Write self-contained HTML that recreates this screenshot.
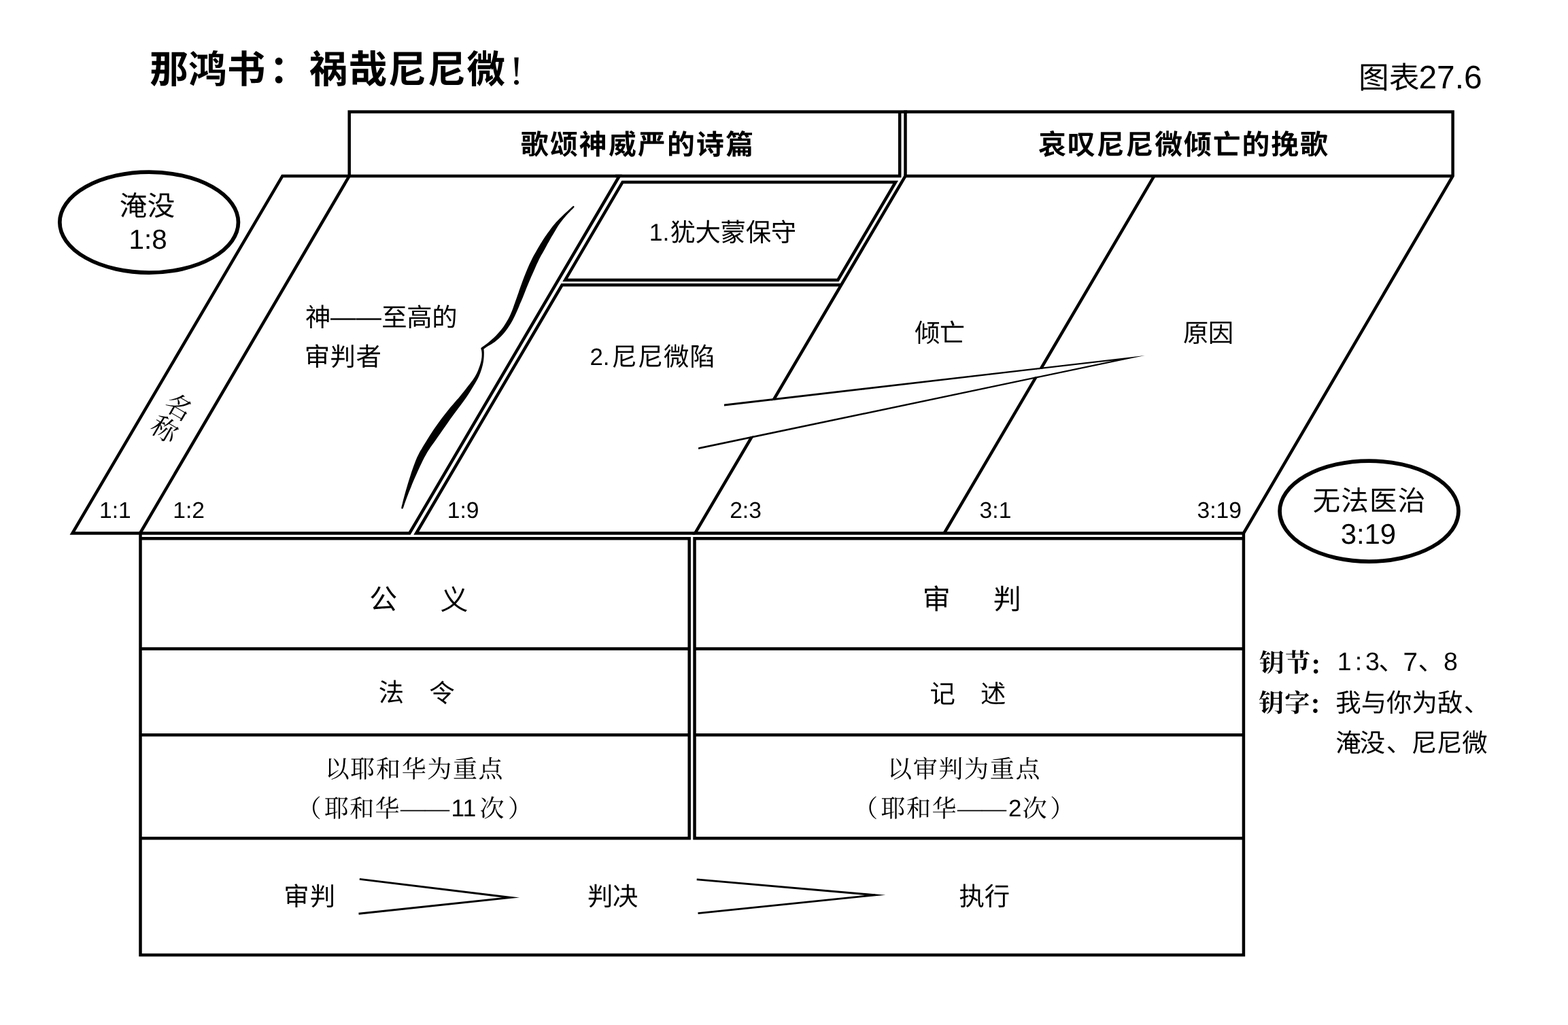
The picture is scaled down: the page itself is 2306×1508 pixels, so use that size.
<!DOCTYPE html>
<html lang="zh-CN">
<head>
<meta charset="utf-8">
<title>那鸿书：祸哉尼尼微！ 图表27.6</title>
<style>
html,body{margin:0;padding:0;background:#fff}
body{width:2306px;height:1508px;overflow:hidden}
svg{display:block;font-family:"Liberation Sans",sans-serif;fill:#000}
.l{fill:none;stroke:#000;stroke-linejoin:miter;stroke-miterlimit:10}
.hb{font-family:"Liberation Sans","Noto Sans CJK SC",sans-serif;font-weight:bold;fill:#000}
.h{font-family:"Liberation Sans","Noto Sans CJK SC",sans-serif;fill:#000}
.s{font-family:"Liberation Serif","Noto Serif CJK SC",serif;fill:#000}
.sb{font-family:"Liberation Serif","Noto Serif CJK SC",serif;font-weight:bold;fill:#000}
svg text{text-rendering:geometricPrecision}
svg{filter:grayscale(1)}
</style>
</head>
<body>
<svg width="2306" height="1508" viewBox="0 0 2306 1508">
<path class="l" d="M415.4 258.9H910.9L602.3 784.5H106.5Z" stroke-width="4.5"/>
<path class="l" d="M513.7 258.9L206 784.5" stroke-width="4.5"/>
<path class="l" d="M513.7 260.9V164.6H1323.2V258.9H905M1320 164.6H1334" stroke-width="4.5"/>
<path class="l" d="M915.6 267.9H1317.1L1232.3 411.9H831.2Z" stroke-width="4.5"/>
<path class="l" d="M1237.6 419.3H826.6L612.2 784.5H1022.2" stroke-width="4.5"/>
<path class="l" d="M1331.5 258.9V164.6H2136.6V258.9L1828.9 784.5H1022.2Z" stroke-width="4.5"/>
<path class="l" d="M1329.4 258.9H2136.6" stroke-width="4.5"/>
<path class="l" d="M1697.4 258.9L1388.6 784.5" stroke-width="4.5"/>
<path d="M1065 597.4L1637.4 530.5L1027.1 658.2Z" style="fill:#fff"/>
<path d="M1065 594.6L1683.7 522.9L1027.1 661L1027.1 658.2L1637.4 530.5L1065 597.4Z"/>
<path class="l" d="M206.5 784.5V1405.0H1828.9V784.5" stroke-width="4.5"/>
<path class="l" d="M206.5 792.2H1013.7V1233.3H206.5" stroke-width="4.5"/>
<path class="l" d="M1828.9 792.2H1021.5V1233.3H1828.9" stroke-width="4.5"/>
<path class="l" d="M206.5 954.6H1013.7M206.5 1081.2H1013.7M1021.5 954.6H1828.9M1021.5 1081.2H1828.9" stroke-width="4.5"/>
<path class="l" d="M528.8 1293.4L751.3 1320.45L527.5 1344.2" stroke-width="2.9" style="stroke-miterlimit:60"/>
<path class="l" d="M1024.7 1293.9L1287 1316.8L1026.5 1343.6" stroke-width="2.9" style="stroke-miterlimit:60"/>
<ellipse class="l" cx="219.15" cy="327.1" rx="131.3" ry="73.95" stroke-width="5.7"/>
<ellipse class="l" cx="2013.5" cy="752.1" rx="131.45" ry="73.95" stroke-width="5.7"/>
<g aria-label="——"><text x="486" y="479" font-size="37.4" class="h">——</text></g>
<g aria-label="——"><text x="589" y="1201" font-size="36" class="s">——</text></g>
<g aria-label="——"><text x="1408" y="1201" font-size="36" class="s">——</text></g>
<path d="M843.7 302.9C843.9 303.1 844.7 303.7 844.6 304.3C844.5 304.9 843.9 305.5 842.9 306.6C841.9 307.7 840.1 309.3 838.5 310.9C837 312.5 835 314.4 833.4 316.2C831.8 318 830.3 319.7 828.9 321.5C827.4 323.3 826.1 325 824.8 326.8C823.4 328.6 822.2 330.3 821 332.1C819.9 333.9 818.8 335.6 817.7 337.4C816.6 339.2 815.6 340.9 814.6 342.7C813.5 344.5 812.5 346.3 811.4 348.1C810.4 349.9 809.3 351.6 808.3 353.4C807.3 355.2 806.3 356.9 805.3 358.7C804.3 360.5 803.4 362.2 802.5 364C801.5 365.8 800.6 367.6 799.5 369.4C798.5 371.2 797.5 372.9 796.3 375C795.2 377.1 794 379.1 792.6 381.9C791.3 384.6 789.8 387.9 788.3 391.2C786.9 394.5 785.2 398.3 783.7 401.8C782.1 405.3 780.5 408.9 779 412.4C777.5 416 776.1 419.5 774.6 423.1C773.2 426.6 771.7 430.4 770.4 433.7C769.1 436.9 767.9 440 766.8 442.6C765.7 445.1 765 446.8 764 449C763.1 451.3 762.2 453.5 761.1 456C760 458.6 758.7 461.5 757.5 464.1C756.2 466.8 754.9 469.4 753.5 471.9C752 474.5 750.5 477.2 748.8 479.7C747.2 482.2 745.4 484.7 743.7 487C742 489.2 740.2 491.4 738.4 493.3C736.6 495.3 734.9 497 733.1 498.6C731.3 500.2 729.5 501.7 727.7 503C725.9 504.3 724.2 505.5 722.4 506.6C720.6 507.6 718.9 508.3 717.1 509.5C715.3 510.7 712.4 512.8 711.5 513.5C711.5 514.3 711.8 516.6 711.8 518.3C711.8 520 711.8 521.8 711.7 523.6C711.6 525.4 711.5 527.2 711.3 529C711.1 530.9 710.8 532.7 710.4 534.6C710.1 536.4 709.6 538.2 709.1 540C708.6 541.8 708.1 543.5 707.5 545.3C706.9 547.1 706.3 548.8 705.6 550.6C704.9 552.4 704.1 554.1 703.2 555.9C702.3 557.7 701.3 559.4 700.3 561.2C699.3 563 698.3 564.7 697.2 566.5C696.1 568.3 695.1 570 694 571.8C692.9 573.6 691.9 575.3 690.7 577.2C689.4 579.2 688.2 581.1 686.6 583.4C685 585.8 683.1 588.4 680.9 591.4C678.8 594.3 676.1 597.8 673.6 601.2C671 604.6 668.3 608.3 665.8 611.8C663.2 615.3 660.7 618.9 658.2 622.4C655.7 626 653.3 629.5 650.8 633.1C648.3 636.6 645.7 640.4 643.3 643.7C641 647 638.6 650.4 636.8 653.1C634.9 655.7 633.5 657.6 632.1 659.7C630.7 661.8 629.7 663.3 628.3 665.5C627 667.8 625.5 670.4 624.1 673.1C622.7 675.8 621.2 678.8 619.8 681.7C618.4 684.6 617.1 687.4 615.8 690.3C614.5 693.2 613.2 696.1 611.9 699C610.6 701.9 609.3 704.7 608.1 707.6C606.9 710.5 605.7 713.3 604.6 716.2C603.4 719.1 602.3 721.9 601.1 724.8C600 727.7 598.8 730.7 597.8 733.4C596.8 736.2 595.8 738.9 595 741.2C594.2 743.6 593.5 746.2 592.9 747.4C592.3 748.6 591.8 748.4 591.6 748.6C591.4 748.4 590.3 748.7 590.3 747.5C590.3 746.3 591.1 743.6 591.7 741.3C592.2 738.9 592.9 736.2 593.6 733.4C594.3 730.7 595.2 727.7 596 724.8C596.8 721.9 597.6 719.1 598.5 716.2C599.4 713.3 600.2 710.5 601.1 707.6C602 704.7 602.9 701.9 603.8 699C604.7 696.1 605.7 693.2 606.7 690.3C607.7 687.4 608.7 684.6 609.8 681.7C610.9 678.8 612.1 675.8 613.3 673.1C614.5 670.4 615.8 667.8 617 665.5C618.2 663.3 619.2 661.8 620.5 659.7C621.7 657.6 622.9 655.7 624.5 653.1C626.1 650.4 628.1 647 630.2 643.7C632.3 640.4 634.7 636.6 637.1 633.1C639.5 629.5 642 626 644.5 622.4C647.1 618.9 649.8 615.3 652.5 611.8C655.2 608.3 658.1 604.5 660.8 601.2C663.5 597.9 666.3 594.6 668.7 591.9C671.1 589.1 673.2 586.9 675.1 584.7C677 582.5 678.5 580.5 680.1 578.6C681.7 576.6 683 574.7 684.5 572.9C685.9 571.1 687.3 569.4 688.7 567.6C690.1 565.8 691.5 564.1 692.8 562.3C694.2 560.5 695.4 558.8 696.6 557C697.7 555.2 698.8 553.5 699.8 551.7C700.7 549.9 701.6 548.2 702.4 546.4C703.2 544.6 703.9 542.9 704.5 541.1C705.2 539.3 705.8 537.6 706.3 535.8C706.9 534 707.3 532.3 707.7 530.5C708 528.7 708.3 526.9 708.5 525.2C708.6 523.5 708.7 521.8 708.6 520.1C708.6 518.5 708.3 516.8 708.1 515.6C707.9 514.4 707.4 513.4 707.3 513C707.4 512.7 707.2 512.1 707.9 511.4C708.6 510.7 710.3 509.8 711.8 508.7C713.3 507.6 715 506.4 716.9 504.9C718.7 503.4 720.9 501.6 723 499.8C725 498 727.2 496 729.2 493.9C731.2 491.9 733.2 489.8 735 487.6C736.9 485.4 738.7 483.1 740.4 480.7C742.1 478.3 743.6 475.8 745.1 473.3C746.6 470.7 748.1 468.1 749.4 465.4C750.7 462.6 752 459.5 753.1 456.9C754.2 454.2 755.1 451.7 755.9 449.3C756.8 446.9 757.4 445.2 758.3 442.6C759.2 440 760.3 437 761.4 433.7C762.5 430.5 763.8 426.6 765.1 423.1C766.4 419.5 767.6 416 768.9 412.4C770.3 408.9 771.7 405.3 773.1 401.8C774.5 398.3 776 394.5 777.5 391.2C779 387.9 780.5 384.6 781.9 381.9C783.2 379.1 784.4 377 785.5 375C786.7 372.9 787.6 371.2 788.7 369.4C789.7 367.6 790.7 365.8 791.8 364C792.8 362.2 793.8 360.5 794.9 358.7C796 356.9 797.1 355.2 798.2 353.4C799.4 351.6 800.6 349.9 801.8 348.1C803 346.3 804.3 344.5 805.5 342.7C806.8 340.9 808.1 339.2 809.4 337.4C810.7 335.6 812.1 333.9 813.5 332.1C814.9 330.3 816.4 328.6 818 326.8C819.6 325 821.3 323.3 823.1 321.5C824.8 319.7 826.7 318 828.5 316.2C830.4 314.4 832.4 312.5 834.2 310.9C836 309.3 837.8 307.6 839.1 306.4C840.5 305.2 841.6 304.1 842.4 303.5C843.2 302.9 843.5 303 843.7 302.9Z"/>
<g aria-label="那鸿书"><text x="220.3" y="121.7" font-size="56.5" letter-spacing="0.26" class="hb">那鸿书</text></g>
<g aria-label="："><text x="396" y="122" font-size="56.5" class="hb">：</text></g>
<g aria-label="祸哉尼尼微"><text x="454.8" y="121.8" font-size="56.5" letter-spacing="1.45" class="hb">祸哉尼尼微</text></g>
<text x="749.5" y="124.45" font-size="60.24" font-family="Liberation Serif">!</text>
<g aria-label="图表"><text x="1998" y="129.9" font-size="44.7" class="h">图表</text></g>
<text x="2086.45" y="129.6" font-size="47.83">27.6</text>
<g aria-label="歌颂神威严的诗篇"><text x="765.7" y="226.6" font-size="40.8" letter-spacing="2.27" class="hb">歌颂神威严的诗篇</text></g>
<g aria-label="哀叹尼尼微倾亡的挽歌"><text x="1527.3" y="226.7" font-size="40.8" letter-spacing="1.95" class="hb">哀叹尼尼微倾亡的挽歌</text></g>
<g aria-label="淹没"><text x="175.7" y="317.4" font-size="40.6" letter-spacing="0.46" class="h">淹没</text></g>
<text x="189.56" y="366.01" font-size="40.4">1:8</text>
<g aria-label="无法医治"><text x="1930.6" y="751.2" font-size="40.6" letter-spacing="1.11" class="h">无法医治</text></g>
<text x="1971.71" y="800.39" font-size="41.81">3:19</text>
<g aria-label="神"><text x="448.9" y="479.7" font-size="37.4" class="h">神</text></g>
<g aria-label="至高的"><text x="561.3" y="479.8" font-size="37.4" letter-spacing="-0.41" class="h">至高的</text></g>
<g aria-label="审判者"><text x="447.7" y="538.2" font-size="37.4" letter-spacing="0.46" class="h">审判者</text></g>
<text x="954.82" y="353.8" font-size="35.61">1.</text>
<g aria-label="犹大蒙保守"><text x="985.5" y="355.2" font-size="37.4" letter-spacing="-0.34" class="h">犹大蒙保守</text></g>
<text x="867.39" y="537.4" font-size="34.94">2.</text>
<g aria-label="尼尼微陷"><text x="899.5" y="538.3" font-size="37.4" letter-spacing="0.88" class="h">尼尼微陷</text></g>
<g aria-label="倾亡"><text x="1345.3" y="503" font-size="37.4" letter-spacing="-1.04" class="h">倾亡</text></g>
<g aria-label="原因"><text x="1739.9" y="502.6" font-size="37.4" letter-spacing="-0.6" class="h">原因</text></g>
<text x="145.98" y="762.17" font-size="33.62">1:1</text>
<text x="254.2" y="762.17" font-size="33.62">1:2</text>
<text x="657.7" y="762.17" font-size="33.62">1:9</text>
<text x="1073.13" y="762.17" font-size="33.62">2:3</text>
<text x="1440.62" y="762.17" font-size="33.62">3:1</text>
<text x="1760.59" y="762.17" font-size="33.62">3:19</text>
<g aria-label="名" transform="rotate(30.4 252.3 614)"><text x="233.9" y="609.1" font-size="38.5" class="s">名</text></g>
<g aria-label="称" transform="rotate(30.4 252.3 614)"><text x="233.2" y="648.1" font-size="38.5" class="s">称</text></g>
<g aria-label="公"><text x="543.3" y="895.9" font-size="41" class="h">公</text></g>
<g aria-label="义"><text x="647.6" y="896.5" font-size="41" class="h">义</text></g>
<g aria-label="法"><text x="556.8" y="1032.4" font-size="37.4" class="h">法</text></g>
<g aria-label="令"><text x="631.2" y="1032.5" font-size="37.4" class="h">令</text></g>
<g aria-label="审"><text x="1356.8" y="896.4" font-size="41" class="h">审</text></g>
<g aria-label="判"><text x="1460.7" y="896" font-size="41" class="h">判</text></g>
<g aria-label="记"><text x="1367.5" y="1033.9" font-size="37.4" class="h">记</text></g>
<g aria-label="述"><text x="1442.1" y="1033.5" font-size="37.4" class="h">述</text></g>
<g aria-label="以耶和华为重点"><text x="477.7" y="1143.7" font-size="36" letter-spacing="1.65" class="s">以耶和华为重点</text></g>
<g aria-label="（"><text x="436.4" y="1201.9" font-size="36" class="s">（</text></g>
<g aria-label="耶和华"><text x="477" y="1201.9" font-size="36" letter-spacing="1.2" class="s">耶和华</text></g>
<text x="663.44" y="1201.2" font-size="35.47">11</text>
<g aria-label="次"><text x="705.6" y="1202" font-size="36" class="s">次</text></g>
<g aria-label="）"><text x="747" y="1201.9" font-size="36" class="s">）</text></g>
<g aria-label="以审判为重点"><text x="1305" y="1143.8" font-size="36" letter-spacing="1.68" class="s">以审判为重点</text></g>
<g aria-label="（"><text x="1255" y="1201.9" font-size="36" class="s">（</text></g>
<g aria-label="耶和华"><text x="1295.6" y="1201.9" font-size="36" letter-spacing="1.5" class="s">耶和华</text></g>
<text x="1482.88" y="1201.2" font-size="34.94">2</text>
<g aria-label="次"><text x="1503.8" y="1202" font-size="36" class="s">次</text></g>
<g aria-label="）"><text x="1544.2" y="1201.9" font-size="36" class="s">）</text></g>
<g aria-label="审判"><text x="417.2" y="1332.1" font-size="37.4" letter-spacing="1.05" class="h">审判</text></g>
<g aria-label="判决"><text x="864.1" y="1331.9" font-size="37.4" letter-spacing="-0.38" class="h">判决</text></g>
<g aria-label="执行"><text x="1410.5" y="1331.7" font-size="37.4" letter-spacing="-0.09" class="h">执行</text></g>
<g aria-label="钥节"><text x="1851.8" y="988.2" font-size="37" letter-spacing="1.1" class="sb">钥节</text></g>
<g aria-label="："><text x="1925.3" y="991.9" font-size="37" class="sb">：</text></g>
<text x="1966.75" y="986.13" font-size="37.43" letter-spacing="5.08">1:3</text>
<g aria-label="、"><text x="2027.4" y="986.4" font-size="37.4" class="h">、</text></g>
<text x="2063.42" y="986.5" font-size="38.52">7</text>
<g aria-label="、"><text x="2085.6" y="986.4" font-size="37.4" class="h">、</text></g>
<text x="2123.04" y="986.13" font-size="37.43">8</text>
<g aria-label="钥字"><text x="1851" y="1046.8" font-size="37" letter-spacing="1.25" class="sb">钥字</text></g>
<g aria-label="："><text x="1924.5" y="1050.4" font-size="37" class="sb">：</text></g>
<g aria-label="我与你为敌"><text x="1964.2" y="1047" font-size="37.4" letter-spacing="0.05" class="h">我与你为敌</text></g>
<g aria-label="、"><text x="2152.7" y="1046.9" font-size="37.4" class="h">、</text></g>
<g aria-label="淹没"><text x="1964.2" y="1106.4" font-size="37.4" letter-spacing="-1.87" class="h">淹没</text></g>
<g aria-label="、"><text x="2038.7" y="1105.8" font-size="37.4" class="h">、</text></g>
<g aria-label="尼尼微"><text x="2075.8" y="1106.4" font-size="37.4" letter-spacing="-0.19" class="h">尼尼微</text></g>
</svg>
</body>
</html>
